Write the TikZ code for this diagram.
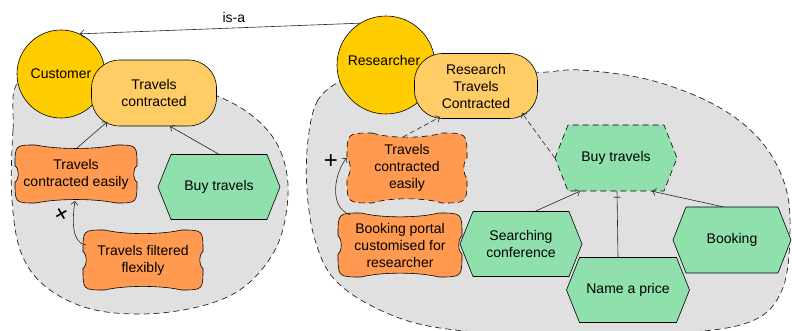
\documentclass[tikz,border=0pt]{standalone}
\usepackage{fontspec}
\setmainfont{Liberation Sans}
\usetikzlibrary{arrows.meta,decorations.markings,calc}
\definecolor{goldc}{HTML}{FFCC00}
\definecolor{goalc}{HTML}{FFCC66}
\definecolor{softc}{HTML}{FF9A50}
\definecolor{taskc}{HTML}{8FE0AD}
\definecolor{regionc}{HTML}{E0E0E0}
\newcommand\cloudpath[5]{%
\begin{scope}[shift={(#1,#2)}]
\pgfmathsetmacro\ca{#3}\pgfmathsetmacro\cb{#4}\pgfmathsetmacro\cc{0.72*#4}
\path[#5] (-\ca+\cc,-\cb) .. controls (-0.3*\ca,-0.84*\cb) and (0.3*\ca,-0.84*\cb) .. (\ca-\cc,-\cb)
 .. controls (\ca,-\cb) .. (\ca,-\cb+\cc)
 .. controls (0.93*\ca,-0.2*\cb) and (0.93*\ca,0.2*\cb) .. (\ca,\cb-\cc)
 .. controls (\ca,\cb) .. (\ca-\cc,\cb)
 .. controls (0.3*\ca,0.84*\cb) and (-0.3*\ca,0.84*\cb) .. (-\ca+\cc,\cb)
 .. controls (-\ca,\cb) .. (-\ca,\cb-\cc)
 .. controls (-0.93*\ca,0.2*\cb) and (-0.93*\ca,-0.2*\cb) .. (-\ca,-\cb+\cc)
 .. controls (-\ca,-\cb) .. (-\ca+\cc,-\cb) -- cycle;
\end{scope}}
\newcommand\hexpath[5]{%
\path[#5] (#1-#3,#2) -- (#1-#3+13,#2-#4) -- (#1+#3-13,#2-#4) -- (#1+#3,#2)
 -- (#1+#3-13,#2+#4) -- (#1-#3+13,#2+#4) -- cycle;}
\begin{document}
\begin{tikzpicture}[x=1pt,y=-1pt,
  font=\fontsize{14}{17}\selectfont,
  region/.style={fill=regionc, draw=black!85, dash pattern=on 6pt off 4pt, line width=0.7pt},
  actor/.style={circle, draw, line width=0.6pt, fill=goldc, minimum size=#1, inner sep=0pt},
  goal/.style={rectangle, rounded corners=28pt, draw, fill=goalc, line width=0.6pt, align=center, minimum width=125pt, minimum height=66pt, inner sep=0pt},
  soft/.style={draw, fill=softc, line width=0.6pt},
  task/.style={draw, fill=taskc, line width=0.6pt},
  dashedborder/.style={dash pattern=on 6pt off 4pt},
  lbl/.style={align=center, inner sep=0pt},
  plusmark/.style={lbl, font=\fontsize{24}{24}\selectfont},
  link/.style={draw=black!85, line width=0.6pt, -{Straight Barb[length=3.5pt,width=7pt]}},
  dlink/.style={link, dash pattern=on 5pt off 3pt},
  barlink/.style={draw=black!85, line width=0.6pt, postaction={decorate},
    decoration={markings, mark=at position 1 with {\draw[line width=0.7pt] (-6pt,-3.5pt) -- (-6pt,3.5pt);}}}
]
\useasboundingbox (0,0) rectangle (792,331);
% regions
\draw[region] plot[smooth cycle, tension=0.6] coordinates {
 (20,80) (13,130) (12,200) (22,255) (50,290) (100,311) (170,312) (235,293)
 (275,250) (288,195) (280,150) (255,118) (215,95) (150,75) (80,70)};
\draw[region] plot[smooth cycle, tension=0.6] coordinates {
 (345,78) (318,100) (308,140) (307,190) (315,240) (335,280) (380,310) (440,328)
 (550,336) (680,333) (752,321) (782,290) (790,235) (785,185) (760,140) (715,105)
 (650,80) (580,70) (530,72) (450,60) (380,62)};
% left actor
\node[actor=88pt] (cust) at (61,74) {Customer};
\node[goal] (tc) at (154,93) {Travels\\contracted};
\cloudpath{76}{174}{61}{29}{soft}
\node[lbl, minimum width=122pt, minimum height=58pt] (tce) at (76,174) {Travels\\contracted easily};
\hexpath{219}{187}{61}{32.5}{task}
\node[lbl, minimum width=122pt, minimum height=65pt] (buyL) at (219,187) {Buy travels};
\cloudpath{143}{260}{60}{30}{soft}
\node[lbl, minimum width=120pt, minimum height=60pt] (tff) at (143,260) {Travels filtered\\flexibly};
% right actor
\node[actor=98pt] (res) at (386,65) {};
\node[lbl] (reslbl) at (384,60) {Researcher};
\node[goal, minimum width=123pt, minimum height=65pt] (rtc) at (476,86) {Research\\Travels\\Contracted};
\cloudpath{407}{168}{60}{35}{soft, dashedborder}
\node[lbl, minimum width=120pt, minimum height=70pt] (tce2) at (407,168) {Travels\\contracted\\easily};
\cloudpath{400}{245}{62}{32}{soft}
\node[lbl, minimum width=124pt, minimum height=64pt] (bp) at (400,245) {Booking portal\\customised for\\researcher};
\hexpath{521}{244}{61}{32.5}{task}
\node[lbl, minimum width=122pt, minimum height=65pt] (sc) at (521,244) {Searching\\conference};
\hexpath{616}{158}{61}{33}{task, dashedborder}
\node[lbl, minimum width=122pt, minimum height=66pt] (buyR) at (616,158) {Buy travels};
\hexpath{732}{240}{59}{33}{task}
\node[lbl, minimum width=118pt, minimum height=66pt] (bk) at (732,240) {Booking};
\hexpath{628}{290}{61.5}{32.5}{task}
\node[lbl, minimum width=123pt, minimum height=65pt] (nap) at (628,290) {Name a price};
% connectors
\draw[link, -{Straight Barb[length=4pt,width=8pt]}] (res.122) -- node[lbl, pos=0.45, above=5pt] (isa) {is-a} (cust.65);
\draw[link] ([xshift=1pt,yshift=26pt]tce.center) -- ([xshift=-47pt,yshift=-29pt]tc.center);
\draw[link] (buyL.north) -- ([xshift=16pt]tc.south);
\draw[link] ([xshift=3pt,yshift=15pt]tff.west) .. controls +(-14,-2) and +(-3,20) .. ([xshift=-1pt,yshift=-27pt]tce.center);
\node[plusmark, rotate=30] (plus1) at (62,215) {+};
\draw[dlink] ([xshift=-4pt,yshift=31pt]tce2.center) -- ([xshift=-36pt,yshift=-31pt]rtc.center);
\draw[dlink] (buyR.west) -- ([xshift=46pt,yshift=-27pt]rtc.center);
\draw[link] ([xshift=-50pt,yshift=-2pt]bp.north) .. controls +(-22,-8) and +(-12,14) .. ([yshift=10pt]tce2.west);
\node[plusmark] (plus2) at (331,162) {+};
\draw[link] ([xshift=14pt]sc.north) -- ([xshift=-36pt]buyR.south);
\draw[barlink] ([xshift=-10pt]nap.north) -- ([xshift=1pt]buyR.south);
\draw[link] ([xshift=-9pt]bk.north) -- ([xshift=36pt]buyR.south);
\end{tikzpicture}
\end{document}
